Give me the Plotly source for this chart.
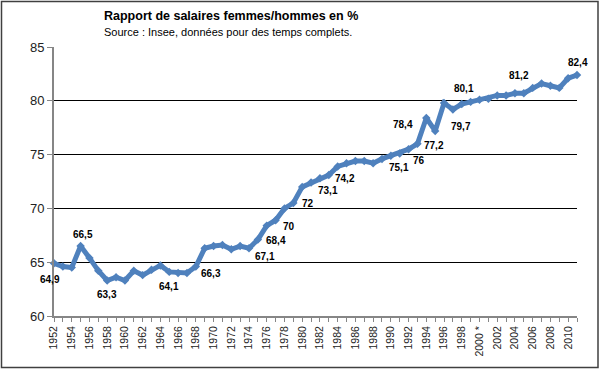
import plotly.graph_objects as go

years = list(range(1952, 2012))
ratio = [
    64.9, 64.6, 64.5, 66.5, 65.4, 64.2, 63.3, 63.6, 63.3, 64.2,   # 1952-1961
    63.8, 64.3, 64.7, 64.1, 64.0, 64.0, 64.6, 66.3, 66.5, 66.6,   # 1962-1971
    66.2, 66.5, 66.3, 67.1, 68.4, 68.9, 70.0, 70.5, 72.0, 72.4,   # 1972-1981
    72.8, 73.1, 73.9, 74.2, 74.4, 74.4, 74.2, 74.6, 74.9, 75.1,   # 1982-1991
    75.5, 76.0, 78.4, 77.2, 79.8, 79.2, 79.7, 79.9, 80.1, 80.2,   # 1992-2001
    80.5, 80.5, 80.7, 80.7, 81.2, 81.6, 81.4, 81.2, 82.1, 82.4,   # 2002-2011
]
tick_years = list(range(1952, 2012, 2))
tick_text = [("2000 *" if y == 2000 else str(y)) for y in tick_years]
label_years = [1952, 1955, 1958, 1965, 1969, 1975, 1976, 1978, 1980, 1983,
               1985, 1991, 1993, 1994, 1995, 1998, 2000, 2006, 2011]
# pixel offsets of each data label (style)
label_dx = [-4, 2, 0, 0, 6, 7, 9, 5, 6, -1, -2, -1, 2, -23, -1, -1, -15, -14, 1]
label_dy = [16, -12, 14.5, 15, 25, 17, 15, 18, 17, 15, 15, 14, 17, 6, 15, 22, -11, -12, -12]

title = "Rapport de salaires femmes/hommes en %"
subtitle = "Source : Insee, données pour des temps complets."

ML, MR, MT, MB = 54, 23, 47, 54
W, H = 600, 370
PW, PH = W - ML - MR, H - MT - MB

fig = go.Figure()
fig.add_trace(go.Scatter(
    x=years, y=ratio, mode="lines+markers",
    line=dict(color="#4F81BD", width=5),
    marker=dict(symbol="diamond", size=6.5, color="#4F81BD"),
    hoverinfo="x+y", showlegend=False, cliponaxis=False,
))

def fmt(v):
    s = f"{v:.1f}"
    if s.endswith(".0"):
        s = s[:-2]
    return s.replace(".", ",")

annotations = []
for yr, dx, dy in zip(label_years, label_dx, label_dy):
    v = ratio[years.index(yr)]
    annotations.append(dict(
        x=yr, y=v, xref="x", yref="y", text="<b>" + fmt(v) + "</b>", showarrow=False,
        xshift=dx, yshift=-dy, xanchor="center", yanchor="middle",
        font=dict(family="Liberation Sans, Arial", size=10, color="#000000"),
    ))

annotations.append(dict(
    x=(101.7 - ML) / PW, y=(H - MB - 15.7) / PH, xref="paper", yref="paper",
    text="<b>" + title + "</b>", showarrow=False, xanchor="left", yanchor="middle",
    font=dict(family="Liberation Sans, Arial", size=12.5, color="#000000"),
))
annotations.append(dict(
    x=(101.7 - ML) / PW, y=(H - MB - 31.7) / PH, xref="paper", yref="paper",
    text=subtitle, showarrow=False, xanchor="left", yanchor="middle",
    font=dict(family="Liberation Sans, Arial", size=11, color="#000000"),
))

fig.update_layout(
    width=W, height=H,
    margin=dict(l=ML, r=MR, t=MT, b=MB, pad=0, autoexpand=False),
    paper_bgcolor="white", plot_bgcolor="white",
    annotations=annotations,
    shapes=[dict(
        type="rect", xref="paper", yref="paper",
        x0=(1.5 - ML) / PW, x1=(598 - ML) / PW,
        y0=(H - MB - 367.5) / PH, y1=(H - MB - 1.5) / PH,
        line=dict(color="#404040", width=1.5), fillcolor="rgba(0,0,0,0)",
        layer="above",
    )],
    xaxis=dict(
        range=[1952, 2011], tickmode="array", tickvals=tick_years, ticktext=tick_text,
        tickangle=-90, ticks="outside", ticklen=4, tickcolor="#868686", tickwidth=1,
        showline=True, linecolor="#868686", linewidth=2,
        showgrid=False, zeroline=False, automargin=False,
        minor=dict(dtick=1, tick0=1952, ticks="outside", ticklen=4, tickcolor="#868686", showgrid=False),
        tickfont=dict(family="Liberation Sans, Arial", size=10.5, color="#222222"),
    ),
    yaxis=dict(
        range=[60, 85], dtick=5, tick0=60,
        ticks="outside", ticklen=5, tickcolor="#868686", tickwidth=1,
        showline=True, linecolor="#868686", linewidth=2, automargin=False,
        showgrid=True, gridcolor="#000000", gridwidth=1, zeroline=False,
        tickfont=dict(family="Liberation Sans, Arial", size=13, color="#222222"),
    ),
)

fig.write_html("out.html", config={"displayModeBar": False},
               post_script="document.body.style.margin='0px';")
